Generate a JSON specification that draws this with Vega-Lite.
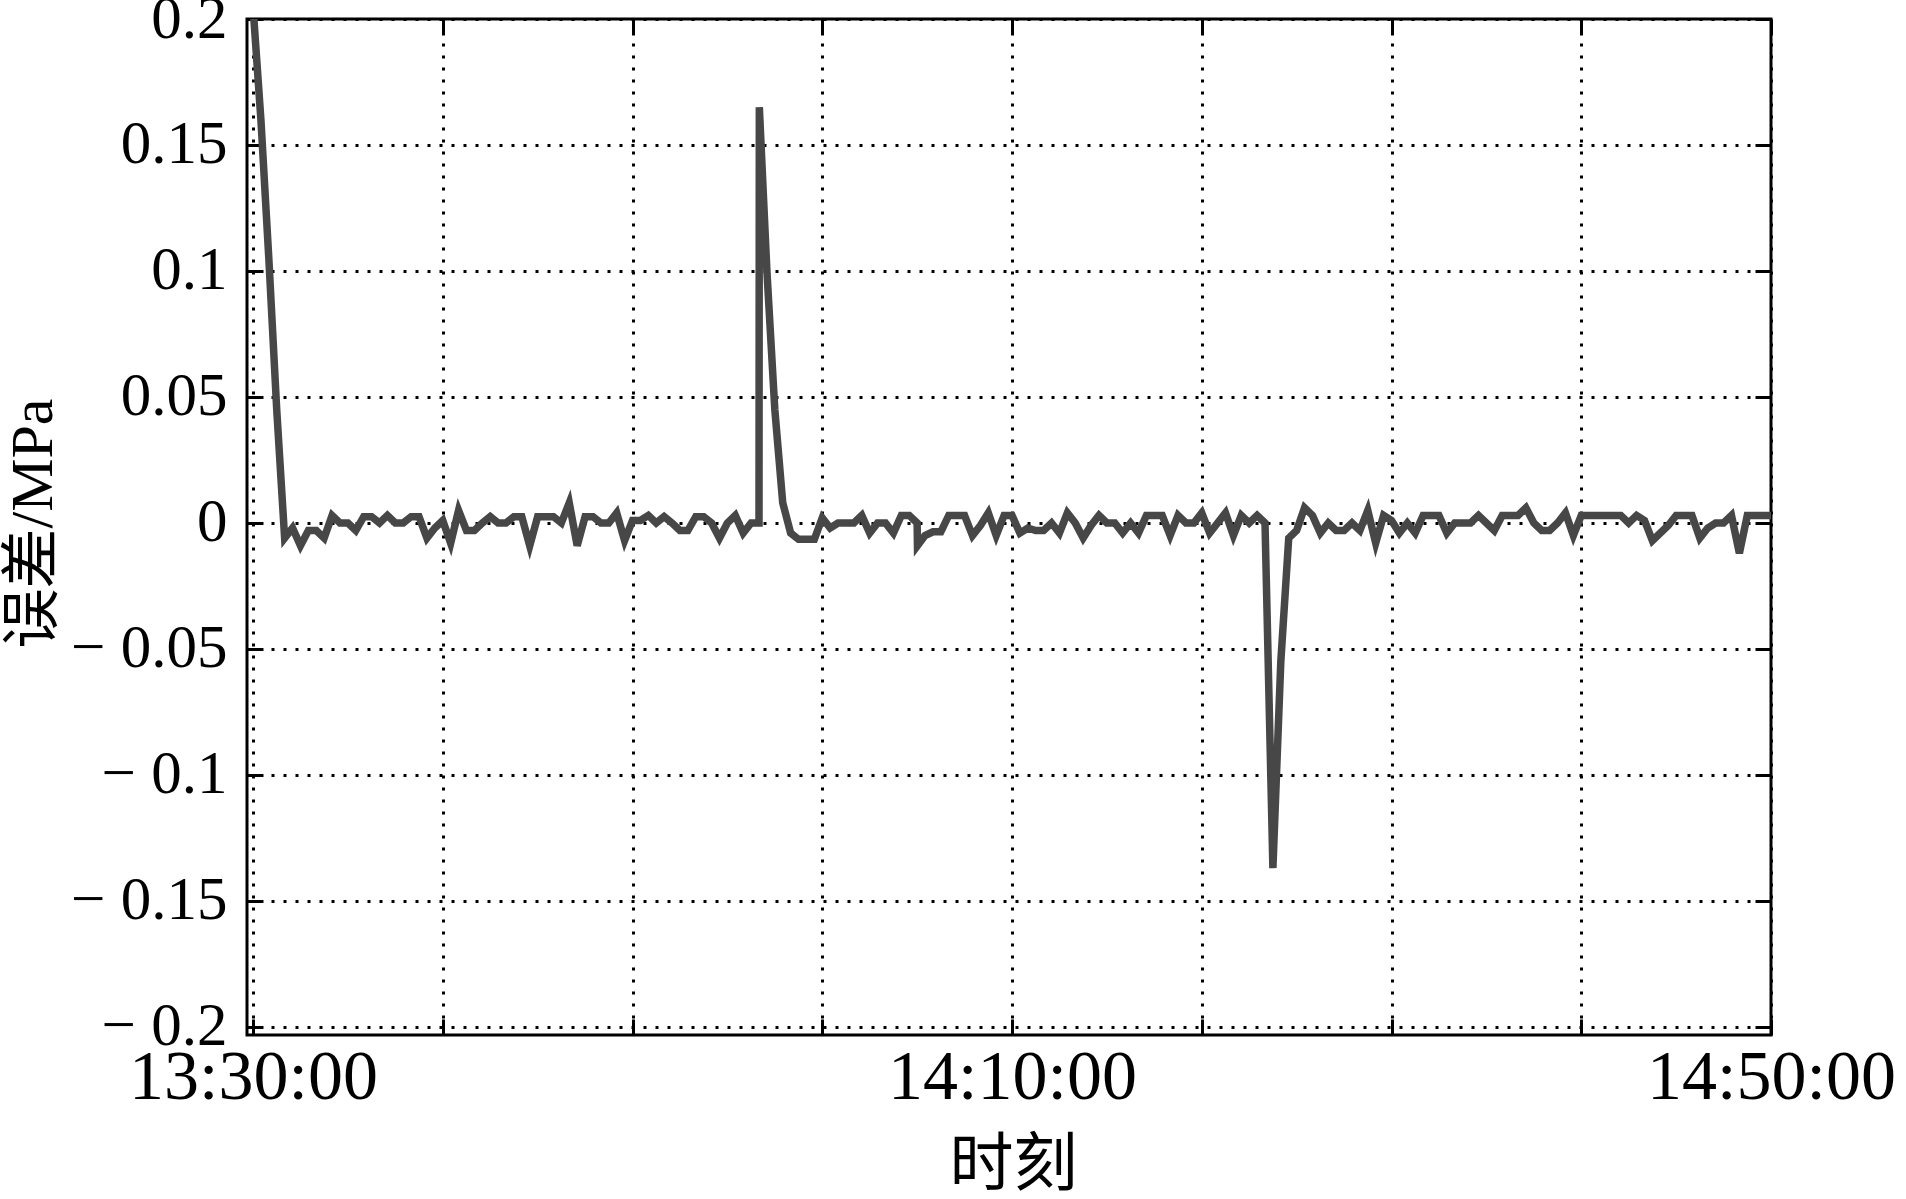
{
 "$schema": "https://vega.github.io/schema/vega-lite/v6.json",
 "width": 1524, "height": 1016,
 "autosize": {"type": "none"},
 "padding": {"left": 247, "top": 19, "right": 135, "bottom": 164},
 "background": "white",
 "config": {
  "view": {"stroke": "black", "strokeWidth": 3},
  "axis": {"domain": false, "tickColor": "black", "tickWidth": 3, "tickSize": -16, "labelColor": "black", "labelFont": "Liberation Serif", "labelLimit": 0, "titleFont": "Liberation Serif, Noto Sans CJK SC", "titleFontWeight": "normal", "titleColor": "black", "titleLimit": 0, "labelOverlap": false, "labelFlush": false, "gridColor": "black", "gridOpacity": 1, "gridDash": [3, 9], "gridWidth": 3}
 },
 "data": {
  "format": {"parse": {"t": "date:'%H:%M:%S'"}},
  "values": [
   {"t":"13:30:00","v":0.205},{"t":"13:30:25","v":0.16},{"t":"13:30:50","v":0.105},{"t":"13:31:15","v":0.045},{"t":"13:31:40","v":-0.006},{"t":"13:32:05","v":-0.002},{"t":"13:32:30","v":-0.009},{"t":"13:32:55","v":-0.003},{"t":"13:33:20","v":-0.003},{"t":"13:33:45","v":-0.006},{"t":"13:34:10","v":0.003},{"t":"13:34:35","v":0},
   {"t":"13:35:00","v":0},{"t":"13:35:25","v":-0.003},{"t":"13:35:50","v":0.0025},{"t":"13:36:15","v":0.0025},{"t":"13:36:40","v":0},{"t":"13:37:05","v":0.003},{"t":"13:37:30","v":0},{"t":"13:37:55","v":0},{"t":"13:38:20","v":0.0025},{"t":"13:38:45","v":0.0025},{"t":"13:39:10","v":-0.006},{"t":"13:39:35","v":-0.002},
   {"t":"13:40:00","v":0.001},{"t":"13:40:25","v":-0.008},{"t":"13:40:50","v":0.005},{"t":"13:41:15","v":-0.003},{"t":"13:41:40","v":-0.003},{"t":"13:42:05","v":0},{"t":"13:42:30","v":0.0025},{"t":"13:42:55","v":0},{"t":"13:43:20","v":0},{"t":"13:43:45","v":0.0025},{"t":"13:44:10","v":0.0025},{"t":"13:44:35","v":-0.009},
   {"t":"13:45:00","v":0.0025},{"t":"13:45:25","v":0.0025},{"t":"13:45:50","v":0.0025},{"t":"13:46:15","v":0},{"t":"13:46:40","v":0.008},{"t":"13:47:05","v":-0.009},{"t":"13:47:30","v":0.0025},{"t":"13:47:55","v":0.0025},{"t":"13:48:20","v":0},{"t":"13:48:45","v":0},{"t":"13:49:10","v":0.004},{"t":"13:49:35","v":-0.007},
   {"t":"13:50:00","v":0.001},{"t":"13:50:25","v":0.001},{"t":"13:50:50","v":0.003},{"t":"13:51:15","v":0},{"t":"13:51:40","v":0.0025},{"t":"13:52:05","v":0},{"t":"13:52:30","v":-0.003},{"t":"13:52:55","v":-0.003},{"t":"13:53:20","v":0.0025},{"t":"13:53:45","v":0.0025},{"t":"13:54:10","v":0},{"t":"13:54:35","v":-0.006},
   {"t":"13:55:00","v":0},{"t":"13:55:25","v":0.003},{"t":"13:55:50","v":-0.004},{"t":"13:56:15","v":0},{"t":"13:56:40","v":0},{"t":"13:56:41","v":0.165},{"t":"13:57:05","v":0.1},{"t":"13:57:30","v":0.045},{"t":"13:57:55","v":0.008},{"t":"13:58:20","v":-0.004},{"t":"13:58:45","v":-0.0065},{"t":"13:59:10","v":-0.0065},{"t":"13:59:35","v":-0.0065},
   {"t":"14:00:00","v":0.002},{"t":"14:00:25","v":-0.002},{"t":"14:00:50","v":0},{"t":"14:01:15","v":0},{"t":"14:01:40","v":0},{"t":"14:02:05","v":0.003},{"t":"14:02:30","v":-0.004},{"t":"14:02:55","v":0},{"t":"14:03:20","v":0},{"t":"14:03:45","v":-0.004},{"t":"14:04:10","v":0.003},{"t":"14:04:35","v":0.003},
   {"t":"14:05:00","v":0},{"t":"14:05:01","v":-0.009},{"t":"14:05:25","v":-0.005},{"t":"14:05:50","v":-0.0035},{"t":"14:06:15","v":-0.0035},{"t":"14:06:40","v":0.003},{"t":"14:07:05","v":0.003},{"t":"14:07:30","v":0.003},{"t":"14:07:55","v":-0.005},{"t":"14:08:20","v":-0.001},{"t":"14:08:45","v":0.004},{"t":"14:09:10","v":-0.005},{"t":"14:09:35","v":0.003},
   {"t":"14:10:00","v":0.003},{"t":"14:10:25","v":-0.004},{"t":"14:10:50","v":-0.002},{"t":"14:11:15","v":-0.003},{"t":"14:11:40","v":-0.003},{"t":"14:12:05","v":0},{"t":"14:12:30","v":-0.004},{"t":"14:12:55","v":0.004},{"t":"14:13:20","v":0},{"t":"14:13:45","v":-0.006},{"t":"14:14:10","v":-0.001},{"t":"14:14:35","v":0.003},
   {"t":"14:15:00","v":0},{"t":"14:15:25","v":0},{"t":"14:15:50","v":-0.004},{"t":"14:16:15","v":0},{"t":"14:16:40","v":-0.004},{"t":"14:17:05","v":0.003},{"t":"14:17:30","v":0.003},{"t":"14:17:55","v":0.003},{"t":"14:18:20","v":-0.005},{"t":"14:18:45","v":0.003},{"t":"14:19:10","v":0},{"t":"14:19:35","v":0},
   {"t":"14:20:00","v":0.004},{"t":"14:20:25","v":-0.004},{"t":"14:20:50","v":0},{"t":"14:21:15","v":0.004},{"t":"14:21:40","v":-0.005},{"t":"14:22:05","v":0.003},{"t":"14:22:30","v":0},{"t":"14:22:55","v":0.003},{"t":"14:23:20","v":0},{"t":"14:23:45","v":-0.137},{"t":"14:24:10","v":-0.055},{"t":"14:24:35","v":-0.006},
   {"t":"14:25:00","v":-0.003},{"t":"14:25:25","v":0.006},{"t":"14:25:50","v":0.003},{"t":"14:26:15","v":-0.004},{"t":"14:26:40","v":0},{"t":"14:27:05","v":-0.003},{"t":"14:27:30","v":-0.003},{"t":"14:27:55","v":0},{"t":"14:28:20","v":-0.003},{"t":"14:28:45","v":0.005},{"t":"14:29:10","v":-0.008},{"t":"14:29:35","v":0.003},
   {"t":"14:30:00","v":0.001},{"t":"14:30:25","v":-0.004},{"t":"14:30:50","v":0},{"t":"14:31:15","v":-0.004},{"t":"14:31:40","v":0.003},{"t":"14:32:05","v":0.003},{"t":"14:32:30","v":0.003},{"t":"14:32:55","v":-0.004},{"t":"14:33:20","v":0},{"t":"14:33:45","v":0},{"t":"14:34:10","v":0},{"t":"14:34:35","v":0.003},
   {"t":"14:35:00","v":0},{"t":"14:35:25","v":-0.003},{"t":"14:35:50","v":0.003},{"t":"14:36:15","v":0.003},{"t":"14:36:40","v":0.003},{"t":"14:37:05","v":0.006},{"t":"14:37:30","v":0},{"t":"14:37:55","v":-0.003},{"t":"14:38:20","v":-0.003},{"t":"14:38:45","v":0},{"t":"14:39:10","v":0.004},{"t":"14:39:35","v":-0.005},
   {"t":"14:40:00","v":0.003},{"t":"14:40:25","v":0.003},{"t":"14:40:50","v":0.003},{"t":"14:41:15","v":0.003},{"t":"14:41:40","v":0.003},{"t":"14:42:05","v":0.003},{"t":"14:42:30","v":0},{"t":"14:42:55","v":0.003},{"t":"14:43:20","v":0.001},{"t":"14:43:45","v":-0.007},{"t":"14:44:10","v":-0.004},{"t":"14:44:35","v":-0.001},
   {"t":"14:45:00","v":0.003},{"t":"14:45:25","v":0.003},{"t":"14:45:50","v":0.003},{"t":"14:46:15","v":-0.006},{"t":"14:46:40","v":-0.002},{"t":"14:47:05","v":0},{"t":"14:47:30","v":0},{"t":"14:47:55","v":0.003},{"t":"14:48:20","v":-0.012},{"t":"14:48:45","v":0.003},{"t":"14:49:10","v":0.003},{"t":"14:49:35","v":0.003},
   {"t":"14:50:00","v":0.003}
  ]
 },
 "layer": [
  {
   "mark": {"type": "line", "color": "#474747", "strokeWidth": 7.5, "clip": true, "strokeJoin": "miter"},
   "encoding": {
    "x": {"field": "t", "type": "temporal",
     "scale": {"domain": [{"year":1900,"month":1,"date":1,"hours":13,"minutes":29,"seconds":41},{"year":1900,"month":1,"date":1,"hours":14,"minutes":50,"seconds":0}], "nice": false},
     "axis": {"orient": "bottom", "format": "%H:%M:%S",
      "values": [{"year":1900,"month":1,"date":1,"hours":13,"minutes":30},{"year":1900,"month":1,"date":1,"hours":13,"minutes":40},{"year":1900,"month":1,"date":1,"hours":13,"minutes":50},{"year":1900,"month":1,"date":1,"hours":14,"minutes":0},{"year":1900,"month":1,"date":1,"hours":14,"minutes":10},{"year":1900,"month":1,"date":1,"hours":14,"minutes":20},{"year":1900,"month":1,"date":1,"hours":14,"minutes":30},{"year":1900,"month":1,"date":1,"hours":14,"minutes":40},{"year":1900,"month":1,"date":1,"hours":14,"minutes":50}],
      "labelExpr": "(datum.label == '13:30:00' || datum.label == '14:10:00' || datum.label == '14:50:00') ? datum.label : ''",
      "labelFontSize": 70, "labelPadding": 24, "grid": true,
      "title": "时刻", "titleFontSize": 64, "titleX": 766, "titleY": 130, "titleAlign": "center", "titleBaseline": "middle", "titleAnchor": null}},
    "y": {"field": "v", "type": "quantitative",
     "scale": {"domain": [-0.2032, 0.2], "nice": false, "zero": false},
     "axis": {"orient": "left", "values": [-0.2, -0.15, -0.1, -0.05, 0, 0.05, 0.1, 0.15, 0.2],
      "labelExpr": "datum.value < -0.0001 ? '− ' + format(-datum.value, '~g') : format(datum.value, '~g')",
      "labelFontSize": 61, "labelPadding": 36, "grid": true,
      "title": "误差/MPa", "titleFontSize": 60, "titleX": -214, "titleY": 504, "titleAlign": "center", "titleBaseline": "middle", "titleAngle": -90}}
   }
  },
  {
   "mark": {"type": "line", "strokeOpacity": 0},
   "encoding": {
    "x": {"field": "t", "type": "temporal",
     "scale": {"domain": [{"year":1900,"month":1,"date":1,"hours":13,"minutes":29,"seconds":41},{"year":1900,"month":1,"date":1,"hours":14,"minutes":50,"seconds":0}], "nice": false},
     "axis": {"orient": "top", "labels": false, "grid": false, "title": null,
      "values": [{"year":1900,"month":1,"date":1,"hours":13,"minutes":30},{"year":1900,"month":1,"date":1,"hours":13,"minutes":40},{"year":1900,"month":1,"date":1,"hours":13,"minutes":50},{"year":1900,"month":1,"date":1,"hours":14,"minutes":0},{"year":1900,"month":1,"date":1,"hours":14,"minutes":10},{"year":1900,"month":1,"date":1,"hours":14,"minutes":20},{"year":1900,"month":1,"date":1,"hours":14,"minutes":30},{"year":1900,"month":1,"date":1,"hours":14,"minutes":40},{"year":1900,"month":1,"date":1,"hours":14,"minutes":50}]}},
    "y": {"field": "v", "type": "quantitative",
     "scale": {"domain": [-0.2032, 0.2], "nice": false, "zero": false},
     "axis": {"orient": "right", "labels": false, "grid": false, "title": null, "values": [-0.2, -0.15, -0.1, -0.05, 0, 0.05, 0.1, 0.15, 0.2]}}
   }
  }
 ],
 "resolve": {"axis": {"x": "independent", "y": "independent"}}
}
